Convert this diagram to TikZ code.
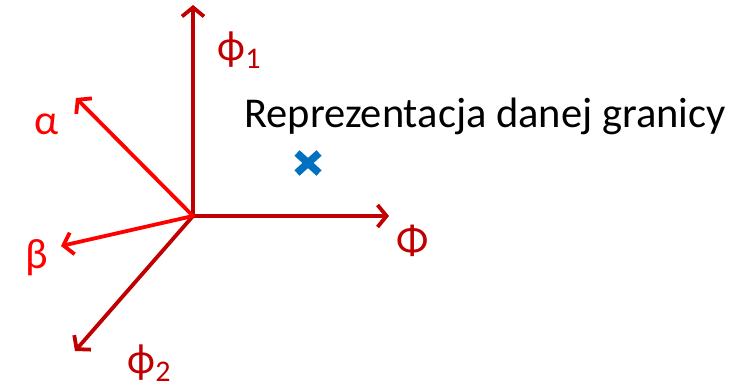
\documentclass[tikz,border=0pt]{standalone}
\usepackage{fontspec}
\setmainfont{Carlito}
\usetikzlibrary{arrows.meta,positioning,calc}
\definecolor{AxDark}{RGB}{192,0,0}
\definecolor{AxRed}{RGB}{255,0,0}
\definecolor{MarkBlue}{RGB}{0,112,192}
\newcommand{\lowidx}[1]{\raisebox{-8pt}{\fontsize{30}{30}\selectfont #1}}

\begin{document}
\begin{tikzpicture}[
  x=1pt,y=-1pt,
  axis/.style={line width=3.8pt,draw=AxDark,line cap=round,
               -{Straight Barb[length=9pt,width=22pt,line width=3.8pt]}},
  axisred/.style={axis,draw=AxRed},
  lbl/.style={inner sep=0pt,font=\fontsize{42.5}{48}\selectfont,text=AxDark},
  lblred/.style={lbl,text=AxRed},
  cross/.style={line width=7.5pt,draw=MarkBlue}
]
\useasboundingbox (0,0) rectangle (741,388);
\coordinate (o) at (193,216);
\coordinate (up) at (193,5);
\coordinate (rt) at (389,216);
\coordinate (al) at (76,98);
\coordinate (be) at (61,246);
\coordinate (dl) at (75,351);
\draw[axis] (o)--(up); \draw[axis] (o)--(rt); \draw[axis] (o)--(dl);
\draw[axisred] (o)--(al); \draw[axisred] (o)--(be);
\node[lbl] (phi1) at (239,50) {ϕ\lowidx{1}};
\node[lbl] (bigphi) at (413,241) {Φ};
\node[lbl] (phi2) at (149,363) {ϕ\lowidx{2}};
\node[lblred] (alpha) at (47,124) {α};
\node[lblred] (beta) at (37,258) {β};
\node[inner sep=0pt,anchor=base west,font=\fontsize{42.5}{48}\selectfont] (txt) at (244,127) {Reprezentacja danej granicy};
\coordinate (x) at (308,163);
\draw[cross] ($(x)+(-11,-10)$) -- ($(x)+(11,10)$);
\draw[cross] ($(x)+(-11,10)$) -- ($(x)+(11,-10)$);
\end{tikzpicture}
\end{document}
